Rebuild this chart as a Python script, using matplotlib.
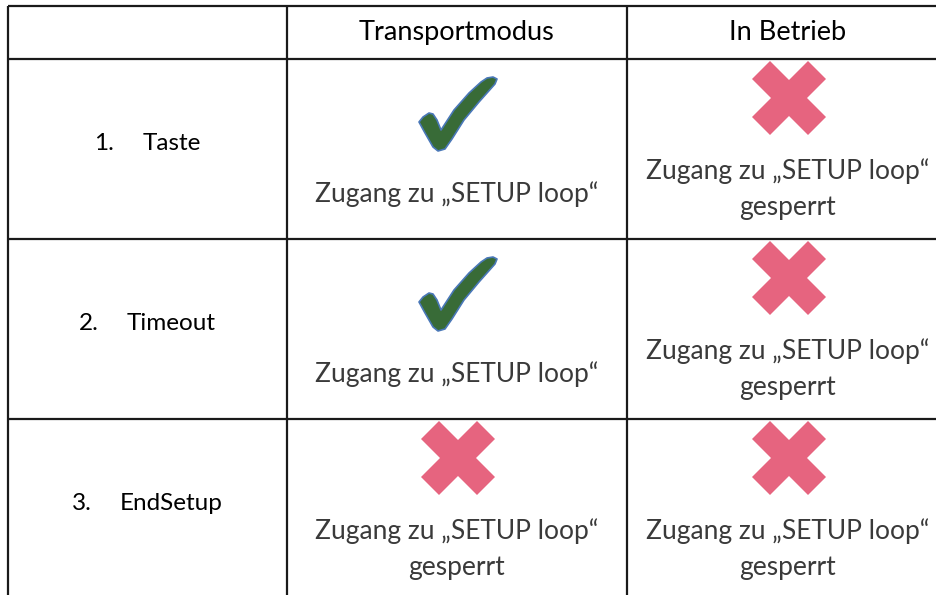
import matplotlib
matplotlib.use("Agg")
import matplotlib.pyplot as plt
from matplotlib.patches import Polygon

# table content
columns = ["Transportmodus", "In Betrieb"]
row_numbers = ["1.", "2.", "3."]
row_names = ["Taste", "Timeout", "EndSetup"]
# True = access allowed (check mark), False = blocked (cross)
allowed = [[True, False],
           [True, False],
           [False, False]]
text_ok = "Zugang zu \u201eSETUP loop\u201c"
text_blocked = ["Zugang zu \u201eSETUP loop\u201c", "gesperrt"]

W, H = 937, 595
col_edges = [8, 287, 627, 949]
row_edges = [6, 59, 239, 419, 599]

CHECK = [(0, 45), (4, 40), (10, 36), (14, 37), (18, 43), (22, 53), (35, 33),
         (50, 16), (62, 5), (68, 1), (74, 0), (78, 2), (76, 7), (60, 25),
         (45, 43), (33, 62), (26, 72), (19, 74), (14, 70), (6, 56)]
CROSS = [(0, 18), (18, 0), (37, 19), (56, 0), (74, 18), (55, 37), (74, 56),
         (56, 74), (37, 55), (18, 74), (0, 56), (19, 37)]

FONT = "Lato"
FS = 17.5       # row labels
FS_BODY = 19    # cell texts
line_kw = dict(color="#1a1a1a", lw=1.6, solid_capstyle="butt")


def draw_shape(ax, pts, cx, cy, **kw):
    xs = [p[0] for p in pts]
    ys = [p[1] for p in pts]
    ox = cx - (max(xs) + min(xs)) / 2
    oy = cy - (max(ys) + min(ys)) / 2
    ax.add_patch(Polygon([(x + ox, y + oy) for x, y in pts], closed=True, **kw))


fig = plt.figure(figsize=(W / 100, H / 100), dpi=100)
ax = fig.add_axes([0, 0, 1, 1])
ax.set_xlim(0, W)
ax.set_ylim(H, 0)
ax.axis("off")

# grid lines
for y in row_edges[:4]:
    ax.plot([col_edges[0], W], [y, y], **line_kw)
for x in col_edges[:3]:
    ax.plot([x, x], [row_edges[0], H], **line_kw)

# header
for j, name in enumerate(columns):
    cx = (col_edges[j + 1] + col_edges[j + 2]) / 2
    ax.text(cx, (row_edges[0] + row_edges[1]) / 2, name, ha="center", va="center",
            fontsize=19.5, family=FONT, color="black")

fig.canvas.draw()
renderer = fig.canvas.get_renderer()

for i in range(len(row_names)):
    top = row_edges[i + 1]
    # row label: number, tab gap, name, centred in first column
    cy = top + 84
    t = ax.text(0, cy, row_names[i], ha="left", va="center", fontsize=FS,
                family=FONT, color="black")
    w = t.get_window_extent(renderer).width
    gap = 48
    left = (col_edges[0] + col_edges[1]) / 2 - (gap + w) / 2
    t.set_x(left + gap)
    ax.text(left, cy, row_numbers[i], ha="left", va="center", fontsize=FS,
            family=FONT, color="black")

    for j, ok in enumerate(allowed[i]):
        cx = (col_edges[j + 1] + col_edges[j + 2]) / 2 + 1
        if ok:
            draw_shape(ax, CHECK, cx, top + 55, facecolor="#386b37",
                       edgecolor="#4a78b8", lw=1.2, joinstyle="round")
            ax.text(cx - 1, top + 135, text_ok, ha="center", va="center",
                    fontsize=FS_BODY, family=FONT, color="#3a3a3a")
        else:
            draw_shape(ax, CROSS, cx, top + 39, facecolor="#e6647f",
                       edgecolor="none")
            for k, line in enumerate(text_blocked):
                ax.text(cx - 1, top + 112 + 36 * k, line, ha="center", va="center",
                        fontsize=FS_BODY, family=FONT, color="#3a3a3a")

fig.savefig("out.png", dpi=100)
